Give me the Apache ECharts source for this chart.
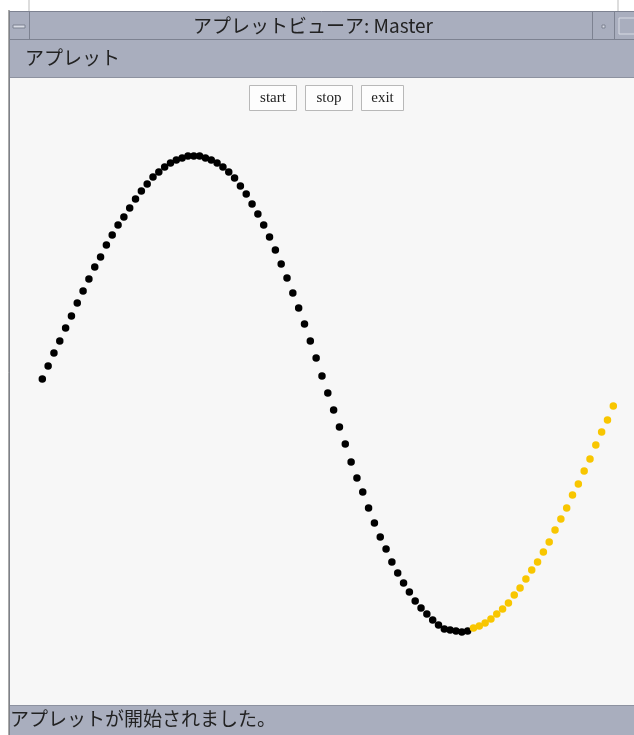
<!DOCTYPE html>
<html>
<head>
<meta charset="utf-8">
<script src="https://cdn.jsdelivr.net/npm/echarts@6/dist/echarts.min.js"></script>
<style>
  html, body { margin: 0; padding: 0; background: #fff; }
  #main { width: 634px; height: 735px; }
</style>
</head>
<body>
<div id="main"></div>
<script>
// 点の値（中心線からの振れ幅、上が正）
var blackY = [15, 28, 41, 53, 66, 78, 91, 103, 115, 127, 137, 149, 159, 169, 177, 186, 195, 203, 210, 217,
  222, 227, 231, 234, 236, 238, 238, 238, 236, 234, 231, 227, 222, 216, 208, 200, 190, 180, 169, 157,
  144, 130, 116, 101, 86, 70, 53, 36, 18, 1, -16, -33, -50, -68, -84, -98, -114, -129, -143, -155,
  -168, -179, -189, -198, -207, -214, -220, -226, -231, -235, -236, -237, -238, -237];
var yellowY = [-234, -232, -229, -225, -220, -215, -209, -201, -194, -185, -176, -168, -158, -148, -136,
  -125, -114, -101, -90, -77, -65, -51, -38, -26, -12];
var buttonLabels = ['start', 'stop', 'exit'];
var titleText = 'アプレットビューア: Master';
var menuText = 'アプレット';
var statusText = 'アプレットが開始されました。';

var blackData = blackY.map(function (v, i) { return [i, v]; });
var yellowData = yellowY.map(function (v, i) { return [blackY.length + i, v]; });

var barColor = '#a9aebe';
var jp = '"Noto Sans CJK JP", sans-serif';

var chrome = [
  // 外枠
  { type: 'rect', shape: { x: 9, y: 11, width: 625, height: 724 }, style: { fill: barColor }, z: 0 },
  { type: 'rect', shape: { x: 10, y: 78, width: 624, height: 627 }, style: { fill: '#f7f7f7' }, z: 0 },
  { type: 'line', shape: { x1: 9, y1: 10, x2: 9, y2: 735 }, style: { stroke: '#555', lineWidth: 1 }, z: 1 },
  { type: 'line', shape: { x1: 29, y1: 0, x2: 29, y2: 11 }, style: { stroke: '#bbb', lineWidth: 1 }, z: 1 },
  { type: 'line', shape: { x1: 618, y1: 0, x2: 618, y2: 11 }, style: { stroke: '#bbb', lineWidth: 1 }, z: 1 },
  // タイトルバー
  { type: 'line', shape: { x1: 9, y1: 11.5, x2: 634, y2: 11.5 }, style: { stroke: '#7d8291', lineWidth: 1 }, z: 1 },
  { type: 'line', shape: { x1: 9, y1: 39.5, x2: 634, y2: 39.5 }, style: { stroke: '#7d8291', lineWidth: 1 }, z: 1 },
  { type: 'line', shape: { x1: 29.5, y1: 12, x2: 29.5, y2: 39 }, style: { stroke: '#7d8291', lineWidth: 1 }, z: 1 },
  { type: 'line', shape: { x1: 592.5, y1: 12, x2: 592.5, y2: 39 }, style: { stroke: '#7d8291', lineWidth: 1 }, z: 1 },
  { type: 'line', shape: { x1: 614.5, y1: 12, x2: 614.5, y2: 39 }, style: { stroke: '#7d8291', lineWidth: 1 }, z: 1 },
  { type: 'rect', shape: { x: 13, y: 25, width: 12, height: 3 }, style: { fill: '#d8dbe4', stroke: '#7d8291', lineWidth: 1 }, z: 1 },
  { type: 'rect', shape: { x: 602, y: 25, width: 3, height: 3 }, style: { fill: '#d8dbe4', stroke: '#7d8291', lineWidth: 1 }, z: 1 },
  { type: 'rect', shape: { x: 619, y: 18, width: 16, height: 16 }, style: { fill: 'none', stroke: '#d8dbe4', lineWidth: 1 }, z: 1 },
  { type: 'text', x: 313, y: 26, style: { text: titleText, font: '19px ' + jp, fill: '#222', align: 'center', verticalAlign: 'middle' }, z: 1 },
  // メニューバー
  { type: 'text', x: 25, y: 58, style: { text: menuText, font: '19px ' + jp, fill: '#222', verticalAlign: 'middle' }, z: 1 },
  { type: 'line', shape: { x1: 10, y1: 77.5, x2: 634, y2: 77.5 }, style: { stroke: '#8d92a0', lineWidth: 1 }, z: 1 },
  // ステータスバー
  { type: 'line', shape: { x1: 10, y1: 705.5, x2: 634, y2: 705.5 }, style: { stroke: '#8d92a0', lineWidth: 1 }, z: 1 },
  { type: 'text', x: 10, y: 719, style: { text: statusText, font: '19px ' + jp, fill: '#222', verticalAlign: 'middle' }, z: 1 }
];

// ボタン
var btnX = [249, 305, 361];
var btnW = [47, 47, 42];
buttonLabels.forEach(function (label, i) {
  chrome.push({ type: 'rect', shape: { x: btnX[i] + 0.5, y: 85.5, width: btnW[i], height: 25 },
    style: { fill: '#fdfdfd', stroke: '#b8b8b8', lineWidth: 1 }, z: 1 });
  chrome.push({ type: 'text', x: btnX[i] + btnW[i] / 2 + 0.5, y: 98, style: { text: label,
    font: '15px "Liberation Serif", serif', fill: '#222', align: 'center', verticalAlign: 'middle' }, z: 1 });
});

var chart = echarts.init(document.getElementById('main'), null, { renderer: 'canvas' });
chart.setOption({
  backgroundColor: '#ffffff',
  animation: false,
  graphic: chrome,
  grid: { left: 42.3, top: 156, width: 571, height: 476 },
  xAxis: { type: 'value', min: 0, max: 98, show: false },
  yAxis: { type: 'value', min: -238, max: 238, show: false },
  series: [
    { type: 'scatter', data: blackData, symbol: 'circle', symbolSize: 7.5, itemStyle: { color: '#000', opacity: 1 }, z: 10 },
    { type: 'scatter', data: yellowData, symbol: 'circle', symbolSize: 7.5, itemStyle: { color: '#f8c600', opacity: 1 }, z: 10 }
  ]
});
</script>
</body>
</html>
